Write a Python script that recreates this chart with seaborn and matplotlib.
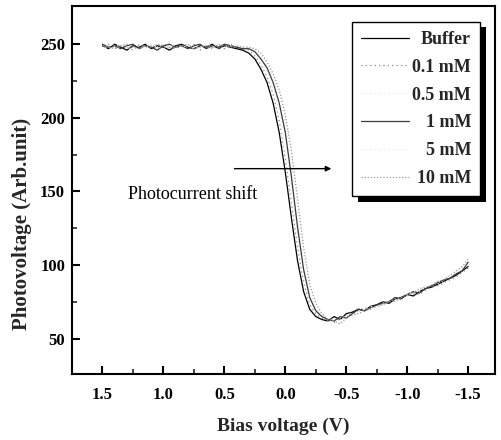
import matplotlib
matplotlib.use("Agg")
import matplotlib.pyplot as plt
import matplotlib.patheffects as pe
import seaborn as sns
import pandas as pd

# ---------------- data ----------------
bias = [1.50, 1.45, 1.40, 1.35, 1.30, 1.25, 1.20, 1.15, 1.10, 1.05, 1.00, 0.95,
        0.90, 0.85, 0.80, 0.75, 0.70, 0.65, 0.60, 0.55, 0.50, 0.45, 0.40, 0.35,
        0.30, 0.25, 0.20, 0.15, 0.10, 0.05, 0.00, -0.05, -0.10, -0.15, -0.20, -0.25, -0.30,
        -0.35, -0.40, -0.45, -0.50, -0.55, -0.60, -0.65, -0.70, -0.75, -0.80, -0.85, -0.90,
        -0.95, -1.00, -1.05, -1.10, -1.15, -1.20, -1.25, -1.30, -1.35, -1.40, -1.45, -1.50]

buffer_v = [249, 247, 250, 248, 246, 249, 248, 250, 247, 249, 248, 246,
            249, 250, 248, 247, 249, 248, 250, 247, 249, 248, 247, 246,
            244, 240, 233, 224, 210, 190, 163, 132, 103, 82, 70, 65, 63,
            62, 65, 63, 67, 68, 70, 69, 72, 73, 75, 74, 77,
            78, 80, 79, 82, 84, 85, 87, 89, 91, 93, 96, 99]
mm01_v = [248, 250, 247, 249, 248, 246, 250, 248, 249, 247, 250, 248,
          247, 249, 248, 250, 246, 249, 248, 249, 247, 250, 248, 247,
          246, 242, 236, 228, 216, 198, 172, 142, 112, 88, 73, 67, 64,
          63, 61, 64, 66, 67, 69, 71, 70, 73, 74, 76, 75,
          78, 79, 81, 80, 83, 85, 86, 88, 90, 92, 95, 98]
mm05_v = [247, 249, 248, 250, 247, 248, 249, 246, 248, 250, 247, 249,
          248, 247, 250, 248, 249, 247, 248, 250, 248, 247, 249, 248,
          247, 244, 239, 232, 221, 205, 182, 152, 120, 93, 76, 68, 65,
          62, 64, 62, 65, 68, 68, 70, 72, 71, 74, 76, 77,
          76, 79, 81, 82, 84, 83, 87, 89, 92, 94, 97, 101]
mm1_v = [250, 248, 249, 247, 249, 250, 247, 249, 248, 246, 249, 250,
         248, 249, 247, 249, 250, 247, 249, 248, 250, 249, 248, 247,
         247, 245, 240, 234, 224, 210, 190, 160, 126, 97, 78, 69, 65,
         63, 62, 65, 64, 67, 70, 69, 71, 73, 74, 75, 78,
         77, 80, 82, 81, 84, 86, 88, 90, 91, 94, 96, 102]
mm5_v = [248, 247, 249, 250, 248, 247, 249, 248, 250, 248, 247, 249,
         250, 248, 249, 247, 248, 250, 249, 247, 248, 249, 250, 248,
         248, 246, 242, 236, 228, 215, 197, 170, 136, 104, 82, 71, 66,
         64, 61, 63, 66, 65, 68, 70, 72, 71, 74, 77, 76,
         79, 80, 82, 83, 85, 87, 88, 91, 93, 95, 98, 103]
mm10_v = [249, 248, 247, 249, 250, 248, 247, 249, 248, 250, 249, 247,
          248, 249, 250, 247, 248, 249, 247, 250, 249, 248, 249, 248,
          248, 247, 244, 238, 230, 219, 202, 178, 145, 112, 87, 74, 67,
          63, 62, 60, 64, 66, 67, 69, 71, 72, 73, 75, 77,
          78, 80, 81, 84, 85, 86, 89, 90, 93, 96, 99, 104]

labels = ["Buffer", "0.1 mM", "0.5 mM", "1 mM", "5 mM", "10 mM"]
series = [buffer_v, mm01_v, mm05_v, mm1_v, mm5_v, mm10_v]
xticks = [1.5, 1.0, 0.5, 0.0, -0.5, -1.0, -1.5]
yticks = [50, 100, 150, 200, 250]

# ---------------- style ----------------
sns.set_theme(style="ticks")
plt.rcParams["font.family"] = ["Liberation Serif", "DejaVu Serif"]
plt.rcParams["font.weight"] = "bold"

styles = [
    dict(color="black", linestyle="-", linewidth=0.9),
    dict(color="#8a8a8a", linestyle=(0, (1, 2.5)), linewidth=0.9),
    dict(color="#e4e4e4", linestyle=(0, (1, 3)), linewidth=0.8),
    dict(color="#3a3a3a", linestyle="-", linewidth=0.9),
    dict(color="#e6e6e6", linestyle=(0, (1, 3)), linewidth=0.8),
    dict(color="#999999", linestyle=(0, (1, 1.5)), linewidth=0.9),
]

fig = plt.figure(figsize=(5.01, 4.40), dpi=100)
ax = fig.add_axes([72 / 501, 66 / 440, 423 / 501, 368 / 440])

for lab, vals, st in zip(labels, series, styles):
    df = pd.DataFrame({"bias": bias, "pv": vals})
    sns.lineplot(data=df, x="bias", y="pv", ax=ax, label=lab, **st)

ax.set_xlim(1.75, -1.72)
ax.set_ylim(26, 276)
ax.set_xticks(xticks)
ax.set_xticklabels([f"{t:.1f}" for t in xticks])
ax.set_yticks(yticks)
ax.set_xticks([1.25, 0.75, 0.25, -0.25, -0.75, -1.25], minor=True)
ax.set_yticks([75, 125, 175, 225], minor=True)
ax.tick_params(axis="both", which="major", direction="in", length=6, width=1.5,
               labelsize=12, colors="black")
ax.tick_params(axis="x", which="major", pad=9)
ax.tick_params(axis="y", which="major", pad=5)
ax.tick_params(axis="both", which="minor", direction="in", length=3.5, width=1.2)
for t in ax.get_xticklabels() + ax.get_yticklabels():
    t.set_fontweight("bold")
for s in ax.spines.values():
    s.set_visible(True)
    s.set_color("black")
    s.set_linewidth(1.5)

ax.set_xlabel("Bias voltage (V)", fontsize=14, fontweight="bold")
ax.xaxis.set_label_coords(0.5, -0.118)
ax.set_ylabel("Photovoltage (Arb.unit)", fontsize=15, fontweight="bold")
ax.yaxis.set_label_coords(-0.094, 0.408)

ax.annotate("", xy=(-0.40, 165.5), xytext=(0.44, 165.5),
            arrowprops=dict(arrowstyle="-|>", color="black", lw=1.0,
                            mutation_scale=8))
ax.text(1.29, 148, "Photocurrent shift", fontsize=13, fontweight="normal",
        ha="left", va="center", color="black")

leg = ax.legend(loc="upper left", bbox_to_anchor=(0.662, 0.957), frameon=True,
                fancybox=False, fontsize=13, labelspacing=0.6,
                borderpad=0.5, handlelength=2.65, handletextpad=0.4,
                borderaxespad=0)
fr = leg.get_frame()
fr.set_edgecolor("black")
fr.set_linewidth(1.0)
fr.set_alpha(1)
fr.set_path_effects([pe.SimplePatchShadow(offset=(4, -4), shadow_rgbFace="black",
                                          alpha=1.0), pe.Normal()])
for t in leg.get_texts():
    t.set_fontweight("bold")
# right-align labels inside the legend rows
for col in leg._legend_handle_box.get_children():
    for row in col.get_children():
        row.mode = "expand"
        row.width = 110

fig.savefig("out.png", dpi=100)
